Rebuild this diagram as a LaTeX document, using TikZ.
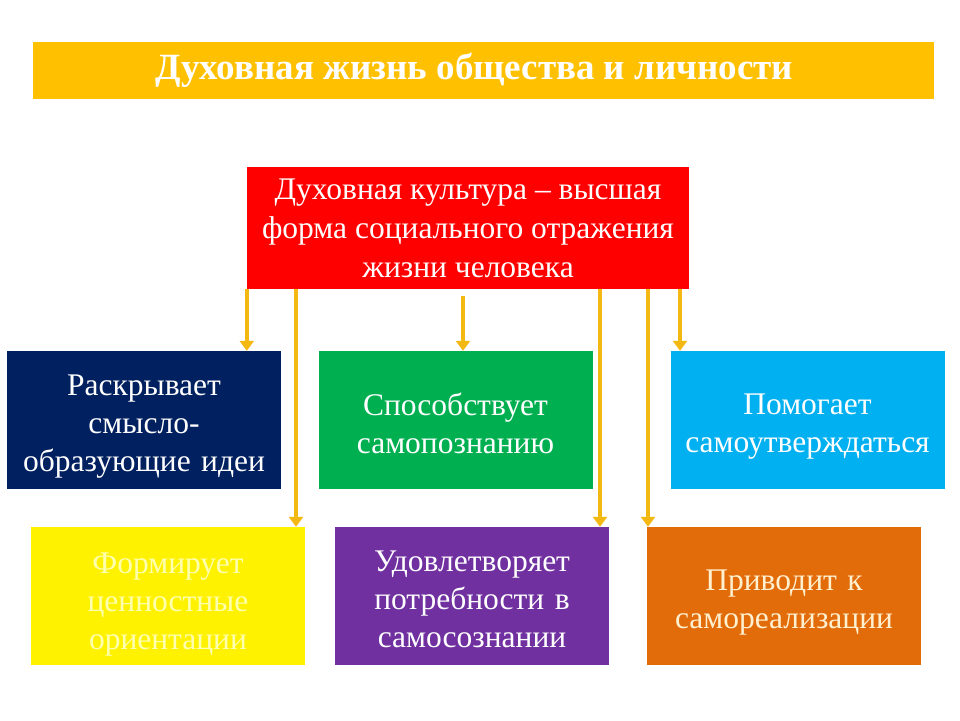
\documentclass[tikz,border=0pt]{standalone}
\usepackage{fontspec}
\setmainfont{Liberation Serif}
\usetikzlibrary{arrows.meta}
\definecolor{gold}{HTML}{FFC000}
\definecolor{arrgold}{HTML}{F4B813}
\definecolor{navy}{HTML}{002060}
\definecolor{grn}{HTML}{00B050}
\definecolor{sky}{HTML}{00B0F0}
\definecolor{purp}{HTML}{7030A0}
\definecolor{orng}{HTML}{E36C0A}
\definecolor{cream}{HTML}{FFF0D0}
\definecolor{paleyel}{HTML}{FFFFB0}
\tikzset{
  box/.style={rectangle, minimum width=274pt, minimum height=138pt, inner sep=0pt},
  txt/.style={inner sep=0pt, align=center, text width=272pt, font=\fontsize{31.5}{38}\selectfont, text=white},
  arr/.style={draw=arrgold, line width=3.5pt, -{Triangle[width=14pt,length=10pt]}},
}
\begin{document}
\begin{tikzpicture}[x=1pt,y=-1pt]
\useasboundingbox (0,0) rectangle (960,720);
\fill[white] (0,0) rectangle (960,720);
% title
\node[fill=gold, minimum width=901pt, minimum height=57pt, inner sep=0pt, text=white, font=\fontsize{37}{40}\selectfont\bfseries] (title) at (483.5,70.5) {\hspace*{-18pt}Духовная жизнь общества и личности};
% central red
\node[fill=red, minimum width=442pt, minimum height=122pt, inner sep=0pt, align=center, text=white, font=\fontsize{31.5}{39}\selectfont] (main) at (468,228) {Духовная культура – высшая\\форма социального отражения\\жизни человека};
% boxes
\node[box, fill=navy] (b1) at (144,420) {};
\node[box, fill=grn] (b2) at (455.5,420) {};
\node[box, fill=sky] (b3) at (807.5,420) {};
\node[box, fill=yellow] (b4) at (168,596) {};
\node[box, fill=purp] (b5) at (472,596) {};
\node[box, fill=orng] (b6) at (784,596) {};
\node[txt] (t1) at ([yshift=-7pt]b1.center) {Раскрывает\\смысло-\\образующие идеи};
\node[txt] (t2) at ([yshift=-3pt]b2.center) {Способствует\\самопознанию};
\node[txt] (t3) at ([yshift=-7pt]b3.center) {Помогает\\самоутверждаться};
\node[txt, text=paleyel] (t4) at ([yshift=-9pt]b4.center) {Формирует\\ценностные\\ориентации};
\node[txt] (t5) at ([yshift=-3pt]b5.center) {Удовлетворяет\\потребности в\\самосознании};
\node[txt, text=cream] (t6) at ([yshift=-7pt]b6.center) {Приводит к\\самореализации};
% arrows
\draw[arr] (main.south west) -- (main.south west |- b1.north);
\draw[arr] (main.south -| 296,0) -- (b4.north -| 296,0);
\draw[arr] ([yshift=-7pt]main.south -| 463,0) -- (b2.north -| 463,0);
\draw[arr] (main.south -| 600,0) -- (b5.north -| 600,0);
\draw[arr] (main.south -| 648,0) -- (b6.north -| 648,0);
\draw[arr] (main.south -| 680,0) -- (b3.north -| 680,0);
\end{tikzpicture}
\end{document}
